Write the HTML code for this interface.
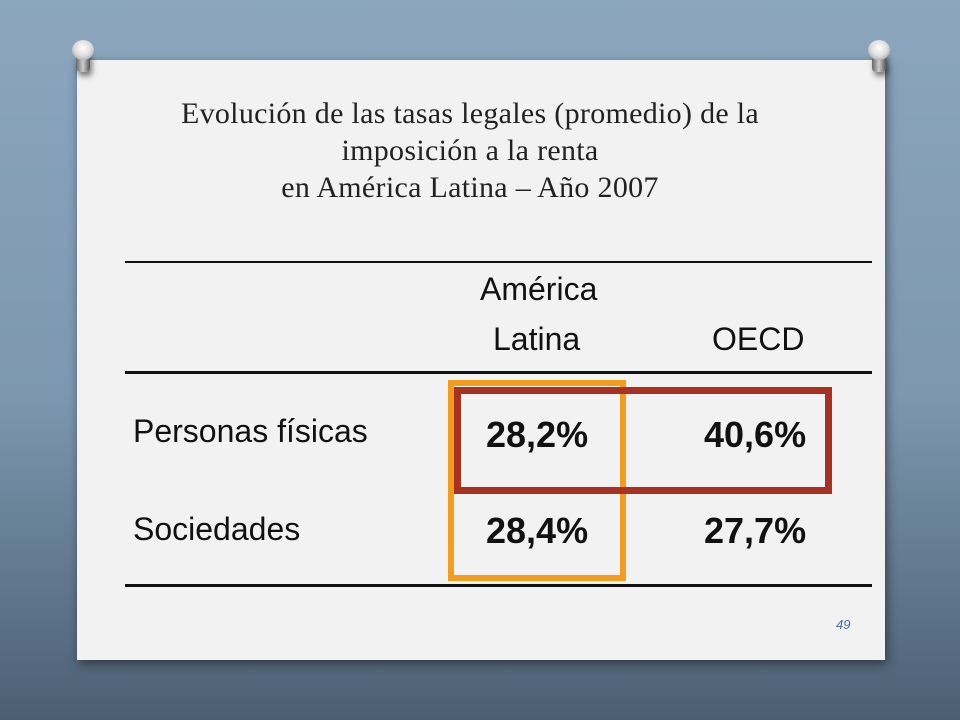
<!DOCTYPE html>
<html><head><meta charset="utf-8">
<style>
html,body{margin:0;padding:0}
body{width:960px;height:720px;position:relative;overflow:hidden;
background:linear-gradient(180deg,#8ba6be 0%,#7c97af 55%,#5c7286 85%,#4b5f72 100%);font-family:"Liberation Sans",sans-serif}
.paper{position:absolute;left:77px;top:60px;width:808px;height:600px;background:#f2f2f2;box-shadow:2px 4px 10px rgba(0,0,0,.45)}
.pin{position:absolute;width:26px;height:34px}
.pin .head{position:absolute;left:2px;top:0;width:22px;height:20px;border-radius:50%;background:radial-gradient(circle at 50% 40%,#fff 0%,#ddd 50%,#888 100%)}
.pin .body{position:absolute;left:6px;top:12px;width:14px;height:20px;border-radius:4px;background:linear-gradient(90deg,#666,#ccc 50%,#555);box-shadow:2px 4px 6px rgba(0,0,0,.5)}
.t{position:absolute;white-space:nowrap}
.title{left:77px;width:786px;text-align:center;font-family:"Liberation Serif",serif;font-size:30px;color:#222;line-height:37px;top:95px;letter-spacing:0.3px}
.hl{position:absolute;left:125px;width:747px;background:#111}
.hd{font-size:32px;color:#111}
.v{font-size:36px;font-weight:bold;color:#111}
.box{position:absolute;box-sizing:border-box}
</style></head><body>
<div class="paper"></div>
<div class="pin" style="left:70px;top:40px"><div class="body"></div><div class="head"></div></div>
<div class="pin" style="left:866px;top:40px"><div class="body"></div><div class="head"></div></div>
<div class="t title">Evolución de las tasas legales (promedio) de la<br>imposición a la renta<br>en América Latina – Año 2007</div>
<div class="hl" style="top:261px;height:2px"></div>
<div class="hl" style="top:371px;height:3px"></div>
<div class="hl" style="top:584px;height:3px"></div>
<div class="t hd" style="left:480px;top:271px">América</div>
<div class="t hd" style="left:493px;top:321px">Latina</div>
<div class="t hd" style="left:712px;top:321px">OECD</div>
<div class="t hd" style="left:133px;top:413px">Personas físicas</div>
<div class="t hd" style="left:133px;top:511px">Sociedades</div>
<div class="t v" style="left:486px;top:414px">28,2%</div>
<div class="t v" style="left:704px;top:414px">40,6%</div>
<div class="t v" style="left:486px;top:510px">28,4%</div>
<div class="t v" style="left:704px;top:510px">27,7%</div>
<div class="box" style="left:448px;top:380px;width:178px;height:201px;border:6px solid #f39c1e"></div>
<div class="box" style="left:454px;top:387px;width:378px;height:107px;border:7px solid #a83222"></div>
<div class="t" style="left:836px;top:617px;font-size:13px;font-style:italic;color:#4a6aa0">49</div>
</body></html>
